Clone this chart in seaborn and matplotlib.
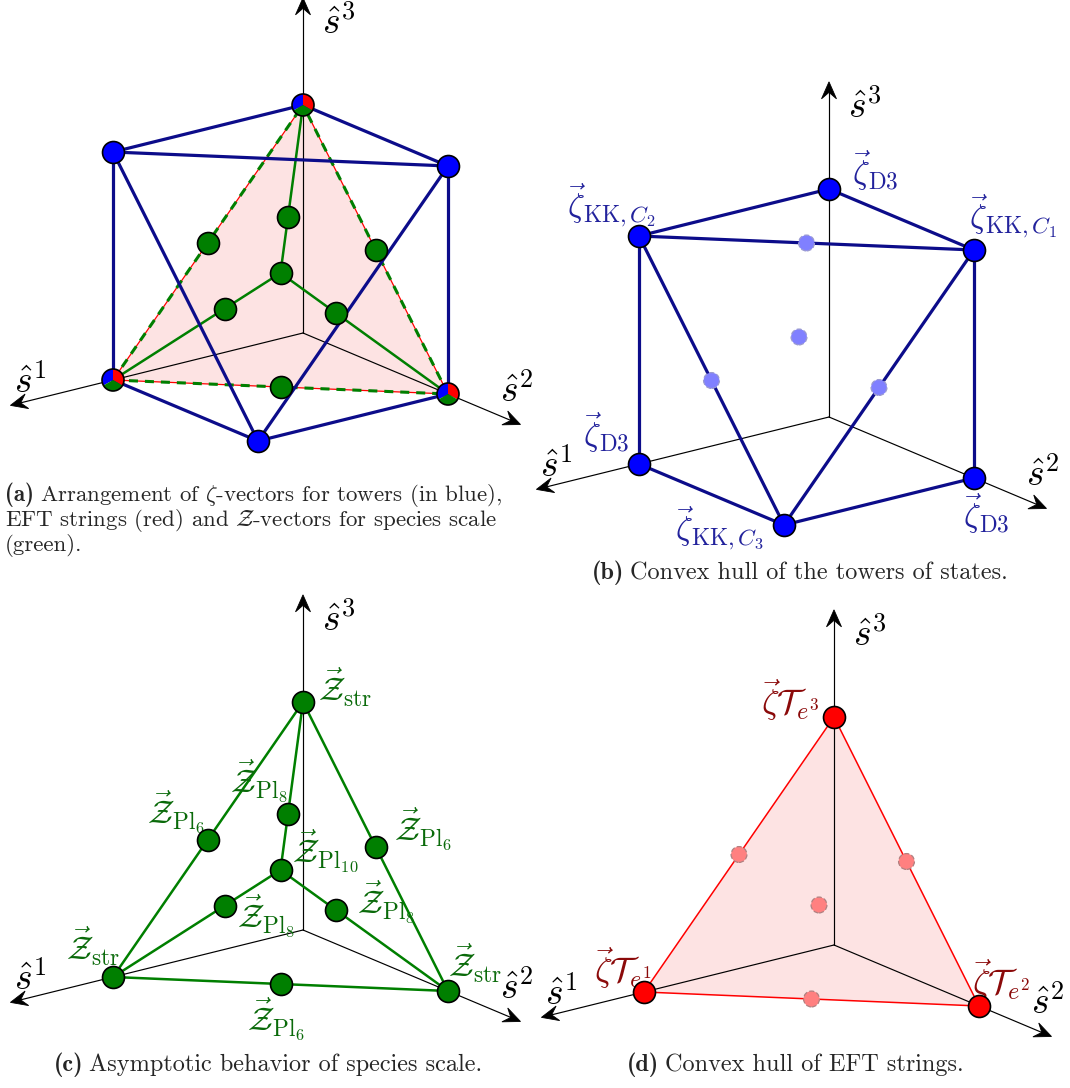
import numpy as np
import pandas as pd
import matplotlib
matplotlib.use("Agg")
import matplotlib.pyplot as plt
import seaborn as sns
from matplotlib.patches import Polygon, Wedge, Circle

# figure size in pixels
W, H = 1070, 1088

# ---- data: 3D vectors (in units of the unit-axis length) ----
ZETA_D3 = np.array([[1, 0, 0], [0, 1, 0], [0, 0, 1]], dtype=float)
ZETA_KK = np.array([[0, 1, 1], [1, 0, 1], [1, 1, 0]], dtype=float)  # C1, C2, C3
# faint points of the tower hull (midpoints of the inner triangle + its centroid)
TOWER_INNER = np.array([[0.5, 0.5, 1], [1, 0.5, 0.5], [0.5, 1, 0.5], [2/3, 2/3, 2/3]])
TOWER_EDGES = [(2, 3), (2, 4), (3, 4), (4, 0), (3, 1), (0, 5), (1, 5), (4, 5), (3, 5)]

ZETA_STRING = np.array([[1, 0, 0], [0, 1, 0], [0, 0, 1]], dtype=float)
STRING_INNER = np.array([[0.5, 0, 0.5], [0, 0.5, 0.5], [0.5, 0.5, 0], [1/3, 1/3, 1/3]])

Z_STR = np.array([[1, 0, 0], [0, 1, 0], [0, 0, 1]], dtype=float)
Z_PL6 = np.array([[0.5, 0, 0.5], [0, 0.5, 0.5], [0.5, 0.5, 0]])
Z_PL8 = np.array([[2/3, 1/3, 1/3], [1/3, 2/3, 1/3], [1/3, 1/3, 2/3]])
Z_PL10 = np.array([[0.5, 0.5, 0.5]])
TRIANGLE = [(0, 1), (1, 2), (0, 2)]

AXIS_LABELS = [r"$\hat{s}^1$", r"$\hat{s}^2$", r"$\hat{s}^3$"]
TOWER_LABELS = [r"$\vec{\zeta}_{\mathrm{D3}}$", r"$\vec{\zeta}_{\mathrm{D3}}$", r"$\vec{\zeta}_{\mathrm{D3}}$",
                r"$\vec{\zeta}_{\mathrm{KK},C_1}$", r"$\vec{\zeta}_{\mathrm{KK},C_2}$", r"$\vec{\zeta}_{\mathrm{KK},C_3}$"]
STRING_LABELS = [r"$\vec{\zeta}\mathcal{T}_{e^1}$", r"$\vec{\zeta}\mathcal{T}_{e^2}$", r"$\vec{\zeta}\mathcal{T}_{e^3}$"]
STR_LABEL = r"$\vec{\mathcal{Z}}_{\mathrm{str}}$"
PL6_LABEL = r"$\vec{\mathcal{Z}}_{\mathrm{Pl}_6}$"
PL8_LABEL = r"$\vec{\mathcal{Z}}_{\mathrm{Pl}_8}$"
PL10_LABEL = r"$\vec{\mathcal{Z}}_{\mathrm{Pl}_{10}}$"

CAPTION_A = [("(a)", r"Arrangement of $\zeta$-vectors for towers (in blue),"),
             ("", r"EFT strings (red) and $\mathcal{Z}$-vectors for species scale"),
             ("", r"(green).")]
CAPTION_B = ("(b)", "Convex hull of the towers of states.")
CAPTION_C = ("(c)", "Asymptotic behavior of species scale.")
CAPTION_D = ("(d)", "Convex hull of EFT strings.")

# ---- view / layout ----
VIEW = np.array([[-190.0, 145.0, 0.0], [-47.0, -61.0, 228.0]])  # oblique projection (px)
AXIS_EXT = [1.54, 1.5, 1.47]
AXIS_LABEL_OFF = [(20, 24), (-4, 34), (36, -25)]
PANELS = {  # box (x0, y0, x1, y1) and origin in image pixels
    "a": ((0, 0, 535, 490), (303, 333)),
    "b": ((535, 0, 1070, 550), (829, 417)),
    "c": ((0, 590, 535, 1050), (303, 930)),
    "d": ((535, 590, 1070, 1050), (834, 945)),
}
LABEL_SIZE = 24
AXIS_LABEL_SIZE = 27
CAPTION_SIZE = 17.5

BLUE = "#0000ff"
NAVY = "#0c0c8a"
BLUE_TXT = "#22229c"
GREEN = "#007f00"
GREEN_TXT = "#0a6a0a"
RED = "#ff0000"
RED_TXT = "#8b0a0a"
PINK = "#fde3e3"

sns.set_theme(style="white")
plt.rcParams["mathtext.fontset"] = "cm"
plt.rcParams["font.family"] = ["cmr10", "DejaVu Sans"]
plt.rcParams["axes.formatter.use_mathtext"] = True
plt.rcParams["lines.scale_dashes"] = False


def proj(p):
    return VIEW @ np.asarray(p, dtype=float)


def panel_axes(fig, key):
    (x0, y0, x1, y1), (ox, oy) = PANELS[key]
    ax = fig.add_axes([x0 / W, 1 - y1 / H, (x1 - x0) / W, (y1 - y0) / H])
    ax.set_axis_off()
    return ax


def finish(ax, key):
    (x0, y0, x1, y1), (ox, oy) = PANELS[key]
    ax.set_xlim(x0 - ox, x1 - ox)
    ax.set_ylim(oy - y1, oy - y0)


def stealth(ax, tip, d, length=17, half=7.5):
    d = d / np.linalg.norm(d)
    n = np.array([-d[1], d[0]])
    pts = [tip, tip - length * d + half * n, tip - 0.62 * length * d, tip - length * d - half * n]
    ax.add_patch(Polygon(pts, closed=True, facecolor="black", edgecolor="black", lw=0.6, zorder=3))


def draw_axes(ax):
    for i in range(3):
        tip = proj(AXIS_EXT[i] * np.eye(3)[i])
        d = tip / np.linalg.norm(tip)
        end = tip - 10 * d
        ax.plot([0, end[0]], [0, end[1]], color="black", lw=0.85, zorder=2)
        stealth(ax, tip, d)
        ax.annotate(AXIS_LABELS[i], tip, xytext=AXIS_LABEL_OFF[i], textcoords="offset pixels",
                    ha="center", va="center", fontsize=AXIS_LABEL_SIZE, color="black",
                    annotation_clip=False)


def draw_edges(ax, verts, edges, **kw):
    for i, j in edges:
        a, b = proj(verts[i]), proj(verts[j])
        ax.plot([a[0], b[0]], [a[1], b[1]], solid_capstyle="round", **kw)


def draw_points(ax, pts, color, s=250, ec="black", lw=1.2, ls="-", z=6):
    xy = np.array([proj(p) for p in pts])
    df = pd.DataFrame({"x": xy[:, 0], "y": xy[:, 1]})
    sns.scatterplot(data=df, x="x", y="y", ax=ax, s=s, color=color, edgecolor=ec,
                    linewidth=lw, linestyle=ls, zorder=z, legend=False)


def fill_triangle(ax, verts):
    xy = np.array([proj(v) for v in verts])
    ax.add_patch(Polygon(xy, closed=True, facecolor=PINK, edgecolor="none", zorder=1))


def label(ax, p, text, off, color, size=LABEL_SIZE):
    ax.annotate(text, proj(p), xytext=(off[0], -off[1]), textcoords="offset pixels",
                ha="center", va="center", fontsize=size, color=color, annotation_clip=False)


def caption(fig, x, y, bold, rest, center=False, size=CAPTION_SIZE):
    renderer = fig.canvas.get_renderer()
    t1 = fig.text(x / W, 1 - y / H, bold, family="cmb10", fontsize=size,
                  ha="left", va="baseline")
    t2 = fig.text(x / W, 1 - y / H, rest, fontsize=size, ha="left", va="baseline")
    w1 = t1.get_window_extent(renderer).width if bold else 0.0
    gap = 6.0 if bold else 0.0
    w2 = t2.get_window_extent(renderer).width
    x0 = x - (w1 + gap + w2) / 2 if center else x
    t1.set_x(x0 / W)
    t2.set_x((x0 + w1 + gap) / W)


fig = plt.figure(figsize=(W / 100, H / 100), dpi=100)

# ---------------- (a) ----------------
ax = panel_axes(fig, "a")
fill_triangle(ax, ZETA_STRING)
draw_axes(ax)
draw_edges(ax, ZETA_STRING, TRIANGLE, color=RED, lw=0.9, zorder=3)
draw_edges(ax, ZETA_STRING, TRIANGLE, color=GREEN, lw=2.2, dashes=(6.5, 5), zorder=3)
for k in range(3):
    a, b = proj(Z_STR[k]), proj(Z_PL10[0])
    ax.plot([a[0], b[0]], [a[1], b[1]], color=GREEN, lw=1.8, zorder=3)
tower_verts = np.vstack([ZETA_D3, ZETA_KK])
draw_edges(ax, tower_verts, TOWER_EDGES, color=NAVY, lw=2.3, zorder=4)
draw_points(ax, np.vstack([Z_PL6, Z_PL8, Z_PL10]), GREEN)
draw_points(ax, ZETA_KK, BLUE)
for v in ZETA_D3:
    c = proj(v)
    for t1, t2, col in [(-30, 90, RED), (90, 210, BLUE), (210, 330, GREEN)]:
        ax.add_patch(Wedge(c, 11, t1, t2, facecolor=col, edgecolor="none", zorder=7))
    ax.add_patch(Circle(c, 11, facecolor="none", edgecolor="black", lw=1.2, zorder=8))
finish(ax, "a")

# ---------------- (b) ----------------
ax = panel_axes(fig, "b")
draw_axes(ax)
draw_edges(ax, tower_verts, TOWER_EDGES, color=NAVY, lw=2.3, zorder=4)
draw_points(ax, TOWER_INNER, "#8080ff", s=130, ec="#9a9ad0", lw=0.9, ls="--")
draw_points(ax, tower_verts, BLUE)
tower_off = [(-33, -31), (12, 36), (46, -18), (39, -34), (-28, -31), (-65, 3)]
for v, t, off in zip(tower_verts, TOWER_LABELS, tower_off):
    label(ax, v, t, off, BLUE_TXT)
finish(ax, "b")

# ---------------- (c) ----------------
ax = panel_axes(fig, "c")
draw_axes(ax)
draw_edges(ax, Z_STR, TRIANGLE, color=GREEN, lw=1.8, zorder=3)
for k in range(3):
    a, b = proj(Z_STR[k]), proj(Z_PL10[0])
    ax.plot([a[0], b[0]], [a[1], b[1]], color=GREEN, lw=1.8, zorder=3)
draw_points(ax, np.vstack([Z_STR, Z_PL6, Z_PL8, Z_PL10]), GREEN)
for v, off in zip(Z_STR, [(-20, -31), (27, -28), (42, -15)]):
    label(ax, v, STR_LABEL, off, GREEN_TXT)
for v, off in zip(Z_PL6, [(-32, -28), (48, -18), (-4, 35)]):
    label(ax, v, PL6_LABEL, off, GREEN_TXT)
for v, off in zip(Z_PL8, [(42, 10), (50, -9), (-29, -33)]):
    label(ax, v, PL8_LABEL, off, GREEN_TXT)
label(ax, Z_PL10[0], PL10_LABEL, (45, -19), GREEN_TXT)
finish(ax, "c")

# ---------------- (d) ----------------
ax = panel_axes(fig, "d")
fill_triangle(ax, ZETA_STRING)
draw_axes(ax)
draw_edges(ax, ZETA_STRING, TRIANGLE, color=RED, lw=1.1, zorder=3)
draw_points(ax, STRING_INNER, "#ff8080", s=130, ec="#b08080", lw=0.9, ls="--")
draw_points(ax, ZETA_STRING, RED)
for v, t, off in zip(ZETA_STRING, STRING_LABELS, [(-21, -24), (22, -26), (-44, -17)]):
    label(ax, v, t, off, RED_TXT, size=LABEL_SIZE + 1)
finish(ax, "d")

# ---------------- captions ----------------
for k, (bold, rest) in enumerate(CAPTION_A):
    caption(fig, 5, 501 + 25 * k, bold, rest, size=16.5)
caption(fig, 800, 579, *CAPTION_B, center=True)
caption(fig, 268, 1071, *CAPTION_C, center=True)
caption(fig, 795, 1071, *CAPTION_D, center=True)

fig.savefig("out.png", dpi=100)
